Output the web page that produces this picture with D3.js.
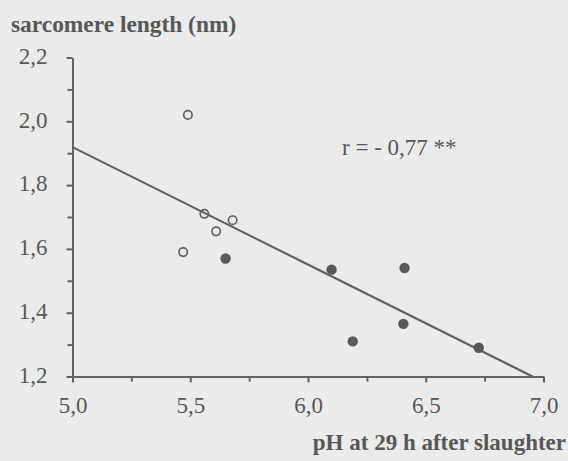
<!DOCTYPE html>
<html><head><meta charset="utf-8">
<script src="https://cdn.jsdelivr.net/npm/d3@7"></script>
<style>
html,body{margin:0;padding:0;background:#ebebeb;}
svg{display:block;}
text{font-family:"Liberation Serif","Times New Roman",serif;fill:#585858;}
</style></head><body>
<script>
const openX = [5.49, 5.47, 5.56, 5.61, 5.68];
const openY = [2.02, 1.59, 1.71, 1.655, 1.69];
const filledX = [5.65, 6.10, 6.41, 6.19, 6.405, 6.725];
const filledY = [1.57, 1.535, 1.54, 1.31, 1.365, 1.29];
const regIntercept = 1.919; // value at pH 5.0
const regSlope = -0.368;
const xTicks = [5.0, 5.5, 6.0, 6.5, 7.0];
const yTicks = [1.2, 1.4, 1.6, 1.8, 2.0, 2.2];
const xMinor = [5.25, 5.75, 6.25, 6.75];
const yMinor = [1.3, 1.5, 1.7, 1.9, 2.1];
const yTitle = "sarcomere length (nm)";
const xTitle = "pH at 29 h after slaughter";
const rLabel = "r = - 0,77 **";

const W = 568, H = 461;
const col = "#626262";
const svg = d3.select("body").append("svg").attr("width", W).attr("height", H);
svg.append("rect").attr("width", W).attr("height", H).attr("fill", "#ebebeb");

const x = d3.scaleLinear().domain([5.0, 7.0]).range([72.5, 543.5]);
const y = d3.scaleLinear().domain([1.2, 2.2]).range([376.5, 57.5]);
const fmt = d => d.toFixed(1).replace(".", ",");

// axes
const xAxis = svg.append("g").attr("transform", `translate(0,${y(1.2)})`)
  .call(d3.axisBottom(x).tickValues(xTicks).tickFormat(fmt).tickSizeInner(6).tickSizeOuter(0).tickPadding(14));
const xMin = svg.append("g").attr("transform", `translate(0,${y(1.2)})`)
  .call(d3.axisBottom(x).tickValues(xMinor).tickFormat("").tickSize(5).tickSizeOuter(0));
const yAxis = svg.append("g").attr("transform", `translate(${x(5.0)},0)`)
  .call(d3.axisLeft(y).tickValues(yTicks).tickFormat(fmt).tickSizeInner(6).tickSizeOuter(0).tickPadding(19));
const yMin = svg.append("g").attr("transform", `translate(${x(5.0)},0)`)
  .call(d3.axisLeft(y).tickValues(yMinor).tickFormat("").tickSize(5).tickSizeOuter(0));
[xAxis, xMin, yAxis, yMin].forEach(g => {
  g.selectAll("path,line").attr("stroke", col).attr("stroke-width", 2);
  g.selectAll("text").attr("font-size", 23).attr("fill", "#585858")
    .attr("font-family", '"Liberation Serif","Times New Roman",serif');
});
yAxis.selectAll("text").attr("dy", "0.25em");
xMin.select("path").remove();
yMin.select("path").remove();

// regression line
const xEnd = 5.0 + (1.2 - regIntercept) / regSlope;
svg.append("line")
  .attr("x1", x(5.0)).attr("y1", y(regIntercept))
  .attr("x2", x(xEnd)).attr("y2", y(regIntercept + regSlope * (xEnd - 5.0)))
  .attr("stroke", col).attr("stroke-width", 2.2);

// points
svg.append("g").selectAll("circle").data(d3.zip(openX, openY)).join("circle")
  .attr("cx", d => x(d[0])).attr("cy", d => y(d[1])).attr("r", 4.2)
  .attr("fill", "none").attr("stroke", col).attr("stroke-width", 1.7);
svg.append("g").selectAll("circle").data(d3.zip(filledX, filledY)).join("circle")
  .attr("cx", d => x(d[0])).attr("cy", d => y(d[1])).attr("r", 5.2)
  .attr("fill", "#5a5a5a");

// texts
svg.append("text").attr("x", 11).attr("y", 31.5).attr("font-size", 23.4).attr("font-weight", "bold").text(yTitle);
svg.append("text").attr("x", 566).attr("y", 450).attr("text-anchor", "end").attr("font-size", 23).attr("font-weight", "bold").text(xTitle);
svg.append("text").attr("x", 342).attr("y", 155).attr("font-size", 23).text(rLabel);
</script>
</body></html>
